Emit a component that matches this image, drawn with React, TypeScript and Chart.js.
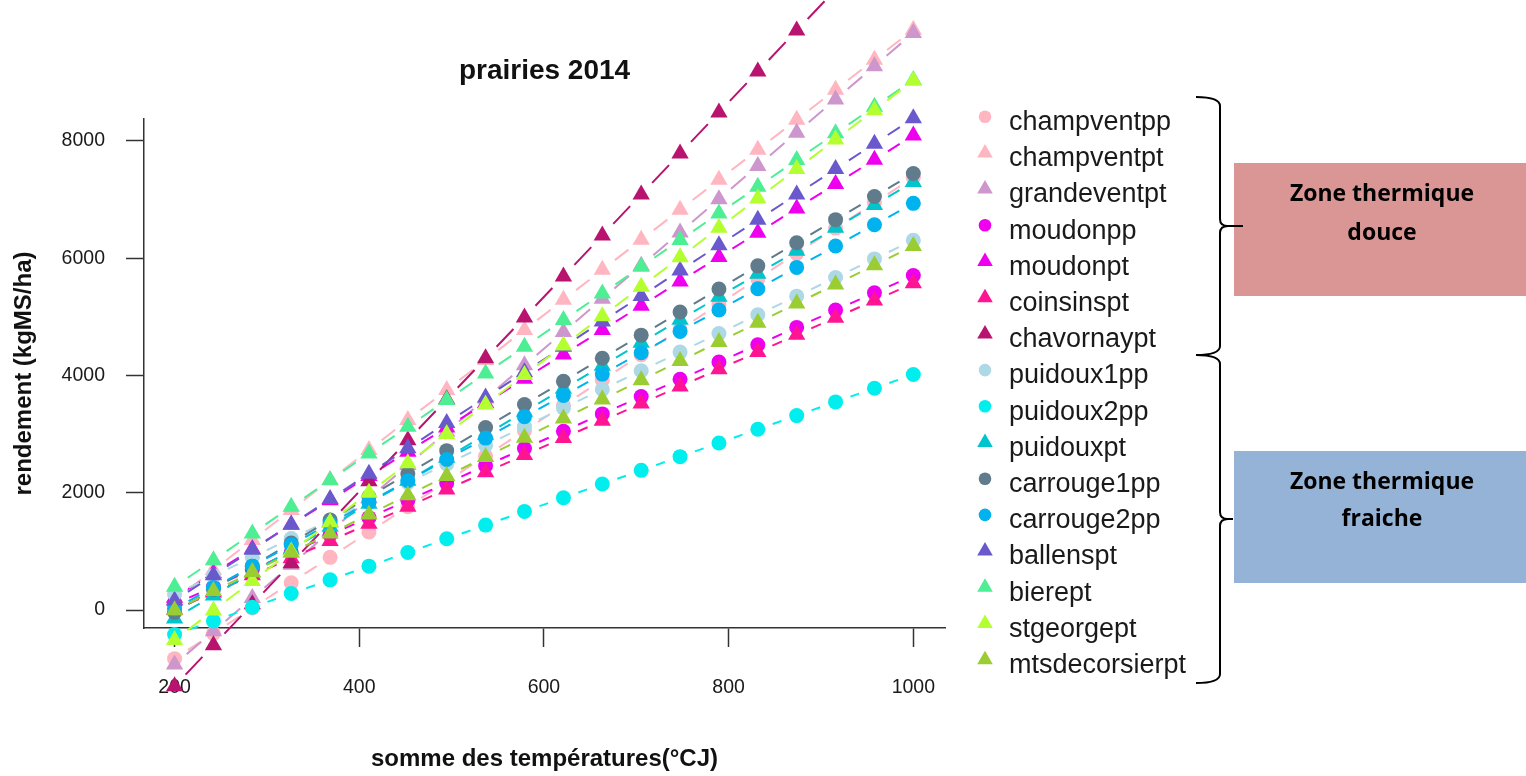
import React, { useEffect, useRef } from 'react';
import { Chart, registerables } from 'chart.js';

Chart.register(...registerables);

// ---------- data ----------
const xValues = [200, 242.1, 284.2, 326.3, 368.4, 410.5, 452.6, 494.7, 536.8, 578.9, 621.1, 663.2, 705.3, 747.4, 789.5, 831.6, 873.7, 915.8, 957.9, 1000];

const seriesNames = [
  'champventpp', 'champventpt', 'grandeventpt', 'moudonpp', 'moudonpt', 'coinsinspt', 'chavornaypt',
  'puidoux1pp', 'puidoux2pp', 'puidouxpt', 'carrouge1pp', 'carrouge2pp', 'ballenspt', 'bierept',
  'stgeorgept', 'mtsdecorsierpt',
];

const champventpp = [-830, -398, 34, 466, 898, 1330, 1762, 2194, 2626, 3058, 3490, 3922, 4354, 4786, 5218, 5650, 6082, 6514, 6946, 7378];
const champventpt = [170, 682, 1194, 1706, 2218, 2730, 3242, 3754, 4266, 4778, 5290, 5802, 6314, 6826, 7338, 7850, 8362, 8874, 9386, 9898];
const grandeventpt = [-930, -363, 204, 771, 1338, 1905, 2472, 3039, 3606, 4173, 4740, 5307, 5874, 6441, 7008, 7575, 8142, 8709, 9276, 9843];
const moudonpp = [100, 395, 690, 985, 1280, 1575, 1870, 2165, 2460, 2755, 3050, 3345, 3640, 3935, 4230, 4525, 4820, 5115, 5410, 5705];
const moudonpt = [210, 625, 1040, 1455, 1870, 2285, 2700, 3115, 3530, 3945, 4360, 4775, 5190, 5605, 6020, 6435, 6850, 7265, 7680, 8095];
const coinsinspt = [5, 298, 591, 884, 1177, 1470, 1763, 2056, 2349, 2642, 2935, 3228, 3521, 3814, 4107, 4400, 4693, 4986, 5279, 5572];
const chavornaypt = [-1300, -601, 98, 797, 1496, 2195, 2894, 3593, 4292, 4991, 5690, 6389, 7088, 7787, 8486, 9185, 9884, 10583, 11282, 11981];
const puidoux1pp = [265, 583, 901, 1219, 1537, 1855, 2173, 2491, 2809, 3127, 3445, 3763, 4081, 4399, 4717, 5035, 5353, 5671, 5989, 6307];
const puidoux2pp = [-420, -187, 47, 281, 514, 748, 981, 1215, 1448, 1682, 1915, 2149, 2382, 2616, 2849, 3083, 3316, 3550, 3783, 4017];
const puidouxpt = [-146, 246, 638, 1030, 1422, 1814, 2206, 2598, 2990, 3382, 3774, 4166, 4558, 4950, 5342, 5734, 6126, 6518, 6910, 7302];
const carrouge1pp = [-40, 354, 748, 1142, 1536, 1930, 2324, 2718, 3112, 3506, 3900, 4294, 4688, 5082, 5476, 5870, 6264, 6658, 7052, 7446];
const carrouge2pp = [20, 384, 748, 1112, 1476, 1840, 2204, 2568, 2932, 3296, 3660, 4024, 4388, 4752, 5116, 5480, 5844, 6208, 6572, 6936];
const ballenspt = [160, 593, 1026, 1459, 1892, 2325, 2758, 3191, 3624, 4057, 4490, 4923, 5356, 5789, 6222, 6655, 7088, 7521, 7954, 8387];
const bierept = [395, 850, 1305, 1760, 2215, 2670, 3125, 3580, 4035, 4490, 4945, 5400, 5855, 6310, 6765, 7220, 7675, 8130, 8585, 9040];
const stgeorgept = [-510, -8, 494, 996, 1498, 2000, 2502, 3004, 3506, 4008, 4510, 5012, 5514, 6016, 6518, 7020, 7522, 8024, 8526, 9028];
const mtsdecorsierpt = [-5, 322, 649, 976, 1303, 1630, 1957, 2284, 2611, 2938, 3265, 3592, 3919, 4246, 4573, 4900, 5227, 5554, 5881, 6208];

const seriesValues = [
  champventpp, champventpt, grandeventpt, moudonpp, moudonpt, coinsinspt, chavornaypt,
  puidoux1pp, puidoux2pp, puidouxpt, carrouge1pp, carrouge2pp, ballenspt, bierept,
  stgeorgept, mtsdecorsierpt,
];

const xTicks = [200, 400, 600, 800, 1000];
const yTicks = [0, 2000, 4000, 6000, 8000];

const zoneLabels = [['Zone thermique', 'douce'], ['Zone thermique', 'fraiche']];

// ---------- styles ----------
const seriesColors = [
  '#FFB6C1', '#FFB6C1', '#CD96CD', '#EE00EE', '#EE00EE', '#FF1493', '#B8136F',
  '#ADD8E6', '#00EEEE', '#00C5CD', '#607B8B', '#00B2EE', '#6959CD', '#4EEE94',
  '#B3FF2F', '#9ACD32',
];
const seriesShapes = [
  'circle', 'triangle', 'triangle', 'circle', 'triangle', 'triangle', 'triangle',
  'circle', 'circle', 'triangle', 'circle', 'circle', 'triangle', 'triangle',
  'triangle', 'triangle',
];

const FONT = '"Liberation Sans", Arial, Helvetica, sans-serif';
const AXIS_COLOR = '#333333';
const TEXT_COLOR = '#1a1a1a';

function segmentDash(c: any) {
  const chart = c.chart;
  const xs = chart && chart.scales ? chart.scales.x : null;
  const ys = chart && chart.scales ? chart.scales.y : null;
  const d = c.dataset ? c.dataset.data : null;
  if (!xs || !ys || !d || d.length < 2) return { dash: [8, 8], offset: 0 };
  const dx = xs.getPixelForValue(d[1].x) - xs.getPixelForValue(d[0].x);
  const dy = ys.getPixelForValue(d[1].y) - ys.getPixelForValue(d[0].y);
  const L = Math.hypot(dx, dy);
  if (!isFinite(L) || L <= 0) return { dash: [8, 8], offset: 0 };
  const gap = 16;
  const on = Math.max(L - 2 * gap, 4);
  const off = Math.max(L - on, 1);
  return { dash: [on, off], offset: L - off / 2 };
}

// let points outside the axis box be drawn (as in the reference)
const unclipPlugin = {
  id: 'unclipPoints',
  beforeDatasetsDraw(chart: any) {
    chart.$savedArea = chart.chartArea;
    chart.chartArea = {
      left: -100, top: -100, right: chart.width + 100, bottom: chart.height + 100,
      width: chart.width + 200, height: chart.height + 200,
    };
  },
  afterDatasetsDraw(chart: any) {
    if (chart.$savedArea) chart.chartArea = chart.$savedArea;
  },
};

const overlayPlugin = {
  id: 'overlay',
  afterDraw(chart: any) {
    const ctx = chart.ctx as CanvasRenderingContext2D;
    ctx.save();
    // legend
    chart.data.datasets.forEach((ds: any, k: number) => {
      const cy = 116.7 + 36.2 * k;
      const cx = 985;
      ctx.fillStyle = ds.pointBackgroundColor;
      ctx.beginPath();
      if (ds.pointStyle === 'triangle') {
        const r = 9;
        ctx.moveTo(cx, cy - r);
        ctx.lineTo(cx + r * 0.866, cy + r * 0.5);
        ctx.lineTo(cx - r * 0.866, cy + r * 0.5);
        ctx.closePath();
      } else {
        ctx.arc(cx, cy, 6.3, 0, Math.PI * 2);
      }
      ctx.fill();
      ctx.fillStyle = TEXT_COLOR;
      ctx.font = `27px ${FONT}`;
      ctx.textAlign = 'left';
      ctx.textBaseline = 'alphabetic';
      ctx.fillText(ds.label, 1009, 130 + 36.2 * k);
    });

    // zone boxes
    const boxes = [
      { y: 163, h: 133, color: '#D99694', base: [201, 239.5] },
      { y: 451, h: 132, color: '#95B3D7', base: [489, 526] },
    ];
    boxes.forEach((b, i) => {
      ctx.fillStyle = b.color;
      ctx.fillRect(1234, b.y, 292, b.h);
      ctx.fillStyle = '#000';
      ctx.font = `bold 23px "Open Sans", Lato, ${FONT}`;
      ctx.textAlign = 'center';
      ctx.textBaseline = 'alphabetic';
      zoneLabels[i].forEach((t, j) => ctx.fillText(t, 1382, b.base[j]));
    });

    // braces
    const brace = (top: number, bottom: number, tipX: number) => {
      const x = 1220;
      const left = 1196;
      const mid = (top + bottom) / 2;
      ctx.beginPath();
      ctx.moveTo(left, top);
      ctx.quadraticCurveTo(x, top, x, top + 9);
      ctx.lineTo(x, mid - 7);
      ctx.quadraticCurveTo(x, mid, x + 8, mid);
      ctx.lineTo(tipX, mid);
      ctx.moveTo(x + 8, mid);
      ctx.quadraticCurveTo(x, mid, x, mid + 7);
      ctx.lineTo(x, bottom - 9);
      ctx.quadraticCurveTo(x, bottom, left, bottom);
      ctx.stroke();
    };
    ctx.strokeStyle = '#000';
    ctx.lineWidth = 2;
    brace(97, 355, 1243);
    brace(355, 683, 1233);
    ctx.restore();
  },
};

export default function App() {
  const canvasRef = useRef<HTMLCanvasElement | null>(null);

  useEffect(() => {
    document.body.style.margin = '0';
    document.body.style.overflow = 'hidden';
    const canvas = canvasRef.current;
    if (!canvas) return;

    const datasets = seriesNames.map((name, k) => {
      const isTri = seriesShapes[k] === 'triangle';
      return {
        label: name,
        data: xValues.map((x, i) => ({ x, y: seriesValues[k][i] })),
        borderColor: seriesColors[k],
        backgroundColor: seriesColors[k],
        pointBackgroundColor: seriesColors[k],
        pointBorderColor: seriesColors[k],
        pointBorderWidth: 0,
        pointStyle: seriesShapes[k],
        pointRadius: isTri ? 10 : 7.5,
        pointHoverRadius: isTri ? 10 : 7.5,
        borderWidth: 2,
        showLine: true,
        fill: false,
        tension: 0,
        clip: false,
        order: seriesNames.length - k,
        borderDash: (c: any) => segmentDash(c).dash,
        borderDashOffset: (c: any) => segmentDash(c).offset,
      };
    });

    const tickFont = { family: FONT, size: 19.5 };
    const titleFont = { family: FONT, size: 24, weight: 'bold' as const };

    const chart = new Chart(canvas, {
      type: 'line',
      data: { datasets: datasets as any },
      options: {
        responsive: false,
        animation: false,
        devicePixelRatio: 1,
        events: [],
        layout: { padding: { left: 0, right: 581, top: 0, bottom: 0 } },
        plugins: {
          legend: { display: false },
          tooltip: { enabled: false },
          title: {
            display: true,
            text: 'prairies 2014',
            fullSize: false,
            color: '#111',
            font: { family: FONT, size: 28, weight: 'bold' },
            padding: { top: 54, bottom: 31.4 },
          },
        },
        scales: {
          x: {
            type: 'linear',
            position: 'bottom',
            min: 166.9,
            max: 1034.3,
            afterFit: (s: any) => { s.height = 148; },
            afterBuildTicks: (s: any) => { s.ticks = xTicks.map((v) => ({ value: v })); },
            ticks: {
              callback: (v: any) => String(v),
              font: tickFont,
              color: TEXT_COLOR,
              padding: 29.3,
              maxRotation: 0,
              autoSkip: false,
            },
            grid: {
              display: true,
              drawOnChartArea: false,
              drawTicks: true,
              tickLength: 19,
              tickWidth: 1.5,
              tickColor: AXIS_COLOR,
              color: AXIS_COLOR,
            },
            border: { display: true, color: AXIS_COLOR, width: 1.5 },
            title: {
              display: true,
              text: 'somme des températures(°CJ)',
              font: titleFont,
              color: '#111',
              padding: { top: 0, bottom: 2 },
            },
          },
          y: {
            type: 'linear',
            position: 'left',
            min: -307,
            max: 8375,
            afterFit: (s: any) => { s.width = 144; },
            afterBuildTicks: (s: any) => { s.ticks = yTicks.map((v) => ({ value: v })); },
            ticks: {
              callback: (v: any) => String(v),
              font: tickFont,
              color: TEXT_COLOR,
              padding: 21,
              autoSkip: false,
            },
            grid: {
              display: true,
              drawOnChartArea: false,
              drawTicks: true,
              tickLength: 18,
              tickWidth: 1.5,
              tickColor: AXIS_COLOR,
              color: AXIS_COLOR,
            },
            border: { display: true, color: AXIS_COLOR, width: 1.5 },
            title: {
              display: true,
              text: 'rendement (kgMS/ha)',
              font: titleFont,
              color: '#111',
              padding: { top: 10, bottom: 0 },
            },
          },
        },
      } as any,
      plugins: [unclipPlugin, overlayPlugin],
    });

    return () => chart.destroy();
  }, []);

  return (
    <div style={{ width: 1526, height: 776, background: '#fff' }}>
      <canvas ref={canvasRef} width={1526} height={776} style={{ display: 'block', width: 1526, height: 776 }} />
    </div>
  );
}
